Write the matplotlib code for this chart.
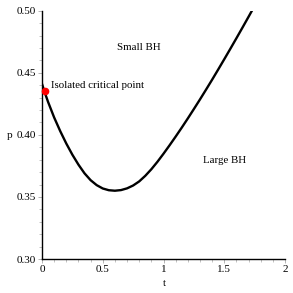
import matplotlib
matplotlib.use("Agg")
import matplotlib.pyplot as plt
from matplotlib.ticker import MultipleLocator

t_vals = [0.0, 0.025, 0.05, 0.1, 0.15, 0.2, 0.25, 0.3, 0.35, 0.4, 0.45, 0.5, 0.55, 0.6,
          0.65, 0.7, 0.75, 0.8, 0.85, 0.9, 0.95, 1.0, 1.05, 1.1, 1.15, 1.2, 1.25, 1.3,
          1.35, 1.4, 1.45, 1.5, 1.55, 1.6, 1.65, 1.7, 1.75, 1.8]
p_vals = [0.4410, 0.4335, 0.4265, 0.4140, 0.4030, 0.3930, 0.3840, 0.3760, 0.3690, 0.3635,
          0.3595, 0.3568, 0.3554, 0.3550, 0.3555, 0.3569, 0.3592, 0.3625, 0.3670, 0.3723,
          0.3783, 0.3848, 0.3916, 0.3986, 0.4058, 0.4132, 0.4208, 0.4285, 0.4364, 0.4444,
          0.4526, 0.4609, 0.4693, 0.4778, 0.4864, 0.4951, 0.5039, 0.5128]
crit_t = [0.022]
crit_p = [0.435]

x_ticks = [0, 0.5, 1, 1.5, 2]
x_labels = ["0", "0.5", "1", "1.5", "2"]
y_ticks = [0.30, 0.35, 0.40, 0.45, 0.50]
y_labels = ["0.30", "0.35", "0.40", "0.45", "0.50"]

plt.rcParams['font.family'] = ['Liberation Serif', 'DejaVu Serif']

fig = plt.figure(figsize=(2.93, 2.93), dpi=100)
ax = fig.add_axes([42/293, 34/293, 243/293, 248.3/293])

ax.plot(t_vals, p_vals, color='black', lw=1.7, solid_joinstyle='round', clip_on=True)
ax.plot(crit_t, crit_p, 'o', color='red', ms=4.5, zorder=5, clip_on=False)

ax.set_xlim(0, 2)
ax.set_ylim(0.30, 0.50)

ax.set_xticks(x_ticks)
ax.set_xticklabels(x_labels)
ax.set_yticks(y_ticks)
ax.set_yticklabels(y_labels)
ax.xaxis.set_minor_locator(MultipleLocator(0.1))
ax.yaxis.set_minor_locator(MultipleLocator(0.01))
ax.tick_params(axis='both', which='both', direction='out', color='#aaaaaa',
               labelsize=8, pad=1.5)
ax.tick_params(which='major', length=3, width=0.6)
ax.tick_params(which='minor', length=2, width=0.5)

for s in ['top', 'right']:
    ax.spines[s].set_visible(False)
for s in ['left', 'bottom']:
    ax.spines[s].set_linewidth(1.0)
    ax.spines[s].set_color('black')

ax.text(0.072, 0.4395, "Isolated critical point", fontsize=7.8, va='center', ha='left')
ax.text(0.80, 0.470, "Small BH", fontsize=7.8, va='center', ha='center')
ax.text(1.506, 0.379, "Large BH", fontsize=7.8, va='center', ha='center')

fig.text(10/293, 1 - 135.5/293, "p", fontsize=8, ha='center', va='center')
fig.text(164/293, 1 - 283/293, "t", fontsize=8, ha='center', va='center')

fig.savefig("out.png", dpi=100)
